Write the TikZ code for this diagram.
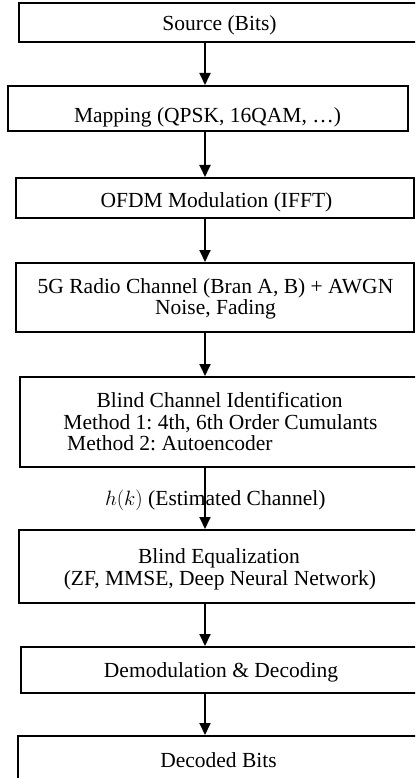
\documentclass[tikz,border=0pt]{standalone}
\usepackage{fontspec}
\setmainfont{Liberation Serif}
\usetikzlibrary{arrows.meta}
\frenchspacing

\tikzset{
  stage/.style={draw, line width=2pt, inner sep=0pt, rectangle},
  txt/.style={anchor=base, inner sep=0pt, font=\fontsize{21.5}{22}\selectfont},
  flow/.style={line width=1.8pt, -{Triangle[width=11pt,length=12pt]}},
}

\begin{document}
\begin{tikzpicture}[x=1pt,y=1pt]
  \clip (0,0) rectangle (415,-778);
  \fill[white] (0,0) rectangle (415,-778);

  % processing stages (borders)
  \node[stage, minimum width=401, minimum height=39] (src)  at (219.5,-22.5) {};
  \node[stage, minimum width=400, minimum height=45] (map)  at (208,-108.5) {};
  \node[stage, minimum width=398, minimum height=40] (ofdm) at (215,-198) {};
  \node[stage, minimum width=398, minimum height=69] (chan) at (215,-297.5) {};
  \node[stage, minimum width=400, minimum height=90] (bci)  at (220,-422) {};
  \node[stage, minimum width=402, minimum height=73] (beq)  at (220,-566.5) {};
  \node[stage, minimum width=400, minimum height=46] (dem)  at (221,-670) {};
  \node[stage, minimum width=401, minimum height=54] (out)  at (218.5,-763) {};

  % stage texts
  \node[txt] (tsrc)  at (219.5,-31) {Source (Bits)};
  \node[txt] (tmap)  at (207.5,-123) {Mapping (QPSK, 16QAM, …)};
  \node[txt] (tofdm) at (216.5,-207) {OFDM Modulation (IFFT)};
  \node[txt] (tch1)  at (215.5,-293) {5G Radio Channel (Bran A, B) + AWGN};
  \node[txt] (tch2)  at (215.5,-314) {Noise, Fading};
  \node[txt] (tbc1)  at (219.5,-407) {Blind Channel Identification};
  \node[txt] (tbc2)  at (220.5,-429) {Method 1: 4th, 6th Order Cumulants};
  \node[txt, anchor=base west] (tbc3) at (67,-450) {Method 2: Autoencoder};
  \node[txt] (tbe1)  at (219,-563) {Blind Equalization};
  \node[txt] (tbe2)  at (220,-585) {(ZF, MMSE, Deep Neural Network)};
  \node[txt] (tdem)  at (221,-677) {Demodulation \& Decoding};
  \node[txt] (tout)  at (218.5,-767) {Decoded Bits};

  % estimated channel label on the link
  \node[txt, anchor=base west] (hk) at (105,-505) {$h(k)$ (Estimated Channel)};

  % signal flow
  \coordinate (ax) at (205,0);
  \draw[flow] (src.south -| ax)  -- (map.north -| ax);
  \draw[flow] (map.south -| ax)  -- (ofdm.north -| ax);
  \draw[flow] (ofdm.south -| ax) -- (chan.north -| ax);
  \draw[flow] (chan.south -| ax) -- (bci.north -| ax);
  \draw[flow] (bci.south -| ax)  -- (beq.north -| ax);
  \draw[flow] (beq.south -| ax)  -- (dem.north -| ax);
  \draw[flow] (dem.south -| ax)  -- (out.north -| ax);
\end{tikzpicture}
\end{document}
